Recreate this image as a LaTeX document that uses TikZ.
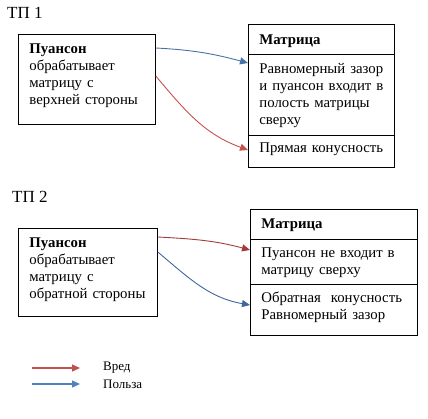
\documentclass[tikz,border=0pt]{standalone}
\usepackage{fontspec}
\setmainfont{Liberation Serif}
\usetikzlibrary{arrows.meta}
\definecolor{harmA}{HTML}{C8504D}
\definecolor{harmB}{HTML}{A23A3A}
\definecolor{goodA}{HTML}{4672AA}
\definecolor{goodB}{HTML}{3F66A0}
\definecolor{legharm}{HTML}{C0504D}
\definecolor{leggood}{HTML}{4F81BD}
\begin{document}
\begin{tikzpicture}[
    x=1pt, y=-1pt,
    box/.style={draw, line width=0.8pt, anchor=north west, align=left, inner xsep=11pt, inner ysep=0pt,
                font=\fontsize{14.8}{17}\selectfont},
    title/.style={anchor=west, inner sep=0pt, font=\fontsize{17}{20}\selectfont},
    legend/.style={anchor=west, inner sep=0pt, font=\fontsize{13}{16}\selectfont},
    arr/.style={-{Triangle[length=8pt, width=7pt]}, line width=0.9pt}
]
\useasboundingbox (0,0) rectangle (428,418);

% TP 1
\node[title] (tp1) at (7,13) {ТП 1};
\node[box, text width=115pt, text height=19.5pt, text depth=70.5pt] (pun1) at (18,34)
    {\textbf{Пуансон}\\обрабатывает\\матрицу~с\\верхней~стороны};
\node[box, text width=124pt, text height=20.5pt, text depth=9.5pt]  (mat1) at (248,24)  {\textbf{Матрица}};
\node[box, text width=124pt, text height=19.5pt, text depth=61.5pt] (gap1) at (248,54)
    {Равномерный~зазор\\и~пуансон~входит~в\\полость~матрицы\\сверху};
\node[box, text width=124pt, text height=17.5pt, text depth=14.5pt] (con1) at (248,135) {Прямая~конусность};

\draw[arr, goodA] ([yshift=-14pt]pun1.north east) to[out=-3, in=165] ([yshift=-9pt]gap1.north west);
\draw[arr, harmA] ([yshift=-42pt]pun1.north east) to[out=-50, in=160] ([yshift=-15pt]con1.north west);

% TP 2
\node[title] (tp2) at (12,197) {ТП 2};
\node[box, text width=117pt, text height=19.5pt, text depth=68.5pt] (pun2) at (18,228)
    {\textbf{Пуансон}\\обрабатывает\\матрицу~с\\обратной~стороны};
\node[box, text width=145pt, text height=19.5pt, text depth=10.5pt] (mat2) at (250,209) {\textbf{Матрица}};
\node[box, text width=145pt, text height=18.5pt, text depth=26.5pt] (gap2) at (250,239)
    {Пуансон~не~входит~в\\матрицу~сверху};
\node[box, text width=145pt, text height=18.5pt, text depth=32.5pt] (con2) at (250,284)
    {Обратная~~конусность\\Равномерный~зазор};

\draw[arr, harmB] ([yshift=-9pt]pun2.north east) to[out=-3, in=165] ([yshift=-11pt]gap2.north west);
\draw[arr, goodB] ([yshift=-24pt]pun2.north east) to[out=-40, in=170] ([yshift=-21pt]con2.north west);

% legend
\coordinate (harm0) at (32,368);
\coordinate (harm1) at (80,368);
\coordinate (good0) at (32,384);
\coordinate (good1) at (80,384);
\node[legend] (harmtxt) at (103,368) {Вред};
\node[legend] (goodtxt) at (103,384) {Польза};
\draw[arr, legharm, line width=1.3pt] (harm0) -- (harm1);
\draw[arr, leggood, line width=1.3pt] (good0) -- (good1);
\end{tikzpicture}
\end{document}
